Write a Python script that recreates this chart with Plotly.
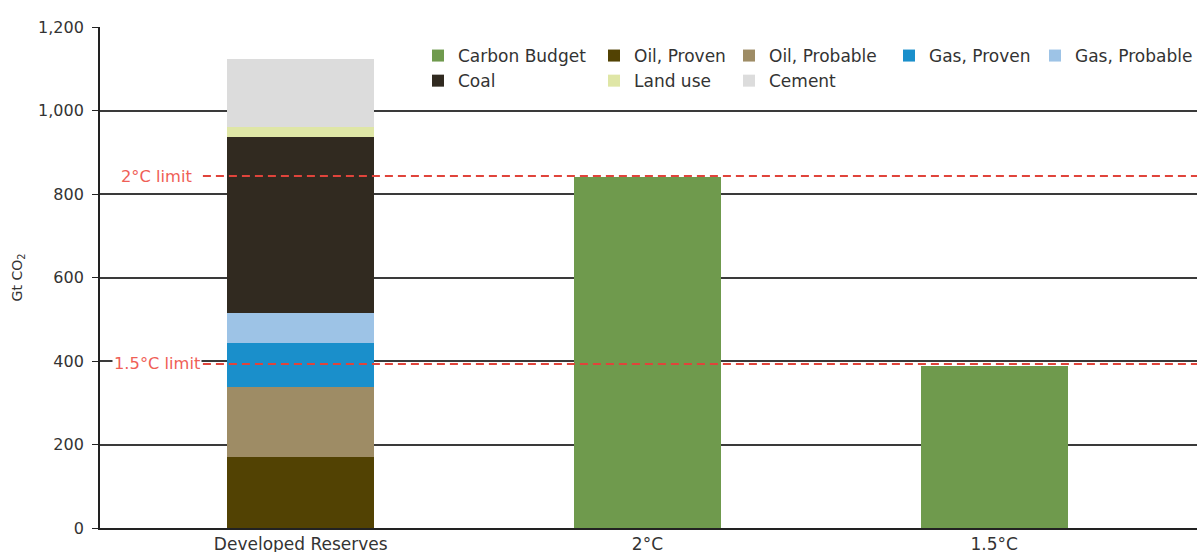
import plotly.graph_objects as go

categories = ["Developed Reserves", "2°C", "1.5°C"]
stack_names = ["Oil, Proven", "Oil, Probable", "Gas, Proven", "Gas, Probable", "Coal", "Land use", "Cement"]
stack_values = [170, 167, 107, 70, 422, 24, 163]
stack_colors = ["#524203", "#9e8c65", "#1a8fcb", "#9dc3e6", "#312a20", "#dfe6a6", "#dcdcdc"]
budget_categories = ["2°C", "1.5°C"]
budget_values = [840, 389]
budget_color = "#6f9a4d"
limit_labels = ["2°C limit", "1.5°C limit"]
limit_values = [843, 393]
y_ticks = [0, 200, 400, 600, 800, 1000, 1200]

FONT = "DejaVu Sans"
W, H = 1198, 552
ML, MR, MT, MB = 100, 0, 27, 24
PW = W - ML - MR
PH = H - MT - MB

# legend column assignment (which legend box each trace belongs to)
legend_of = {"Carbon Budget": "legend", "Coal": "legend",
             "Oil, Proven": "legend2", "Land use": "legend2",
             "Oil, Probable": "legend3", "Cement": "legend3",
             "Gas, Proven": "legend4", "Gas, Probable": "legend5"}

fig = go.Figure()
fig.add_trace(go.Bar(x=budget_categories, y=budget_values, name="Carbon Budget",
                     legend=legend_of["Carbon Budget"],
                     marker=dict(color=budget_color, line=dict(width=0)), width=0.424))
for n, v, c in zip(stack_names, stack_values, stack_colors):
    fig.add_trace(go.Bar(x=[categories[0]], y=[v], name=n, legend=legend_of[n],
                         marker=dict(color=c, line=dict(width=0)), width=0.424))

for lbl, v in zip(limit_labels, limit_values):
    fig.add_shape(type="line", xref="paper", x0=(203 - ML) / PW, x1=1, yref="y", y0=v, y1=v,
                  line=dict(color="#e0443b", width=2, dash="8px,5px"), layer="above")
    fig.add_annotation(xref="paper", x=(157 - ML) / PW, xanchor="center", yref="y", y=v,
                       text=lbl, showarrow=False,
                       bgcolor="white", font=dict(family=FONT, size=16.3, color="#ef5f57"),
                       borderpad=1)

legend_text_x = [457, 633, 768, 928, 1075]
legend_top_px = 38
leg_common = dict(orientation="v", yanchor="top", xanchor="left", traceorder="normal",
                  font=dict(family=FONT, size=17, color="#333333"),
                  bgcolor="rgba(0,0,0,0)", borderwidth=0, itemclick=False, tracegroupgap=0)
legends = {}
for i, tx in enumerate(legend_text_x):
    key = "legend" if i == 0 else f"legend{i + 1}"
    legends[key] = dict(x=(tx - 39 - ML) / PW, y=1 - (legend_top_px - MT) / PH, **leg_common)

fig.update_layout(
    width=W, height=H,
    margin=dict(l=ML, r=MR, t=MT, b=MB),
    barmode="stack",
    plot_bgcolor="white", paper_bgcolor="white",
    font=dict(family=FONT, size=16, color="#333333"),
    showlegend=True,
    xaxis=dict(categoryorder="array", categoryarray=categories, range=[-0.579, 2.585],
               showline=True, linecolor="#222222", linewidth=1.8, ticks="", automargin=False,
               tickfont=dict(family=FONT, size=17, color="#333333")),
    yaxis=dict(range=[0, 1200], tickvals=y_ticks, tickformat=",", showgrid=True,
               gridcolor="#3a3a3a", gridwidth=1.8, showline=True, linecolor="#222222",
               linewidth=1.8, ticks="outside", ticklen=6, tickcolor="#222222", automargin=False,
               ticklabelstandoff=5,
               tickfont=dict(family=FONT, size=16, color="#333333"),
               title=dict(text="Gt CO<sub>2</sub>", font=dict(family=FONT, size=14, color="#333333"),
                          standoff=12),
               zeroline=False),
    **legends,
)

fig.write_html("out.html", config={"displayModeBar": False},
               post_script="document.body.style.margin='0';")
